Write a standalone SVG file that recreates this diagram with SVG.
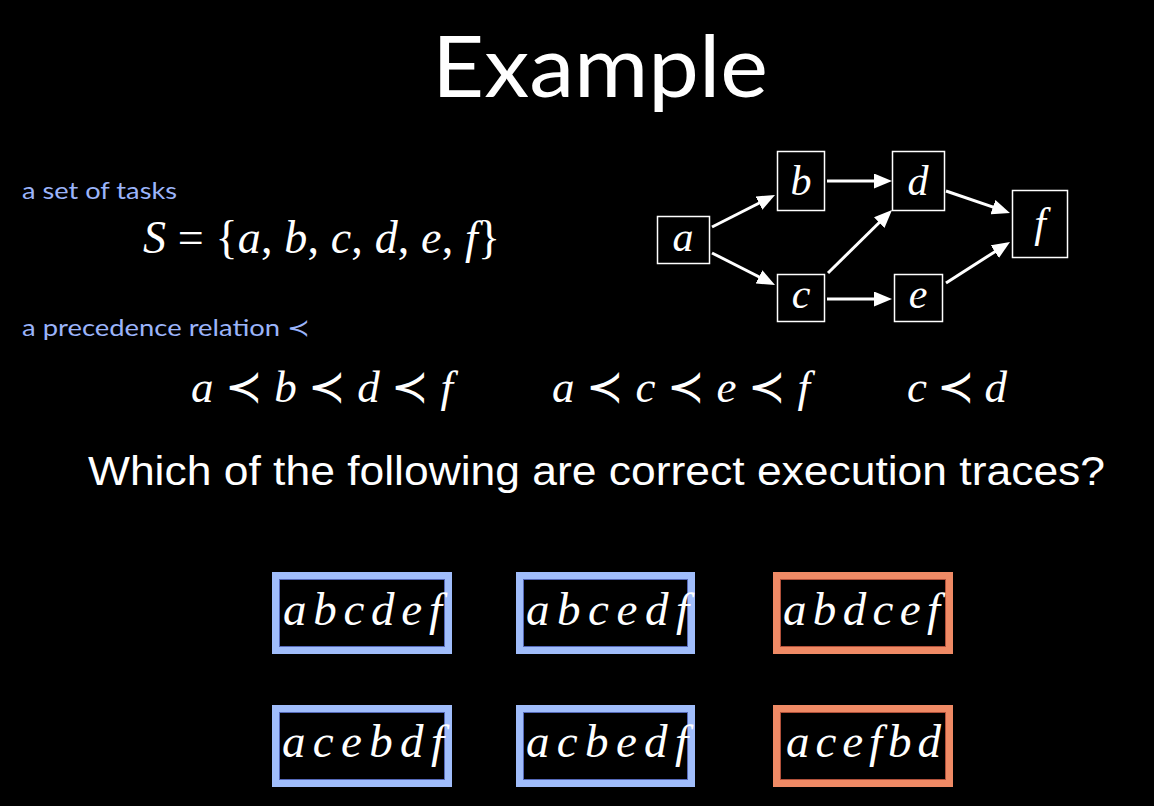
<svg xmlns="http://www.w3.org/2000/svg" width="1154" height="806" viewBox="0 0 1154 806">
  <defs>
    <style>
      .title { font-family: "Lato", "Open Sans", sans-serif; font-size: 86px; fill: #ffffff; }
      .label { font-family: "Lato", "Liberation Sans", sans-serif; font-size: 24px; fill: #9bb4fa; }
      .math { font-family: "Liberation Serif", "DejaVu Serif", serif; fill: #ffffff; }
      .it { font-style: italic; }
      .question { font-family: "Liberation Sans", Arial, sans-serif; font-size: 40px; fill: #ffffff; }
      .node rect { fill: #000000; stroke: #ffffff; stroke-width: 1.5; }
      .node text { font-family: "Liberation Serif", "DejaVu Serif", serif; font-style: italic; font-size: 42px; fill: #ffffff; text-anchor: middle; }
      .edge { stroke: #ffffff; stroke-width: 3; fill: none; marker-end: url(#head); }
      .ok { fill: none; stroke: #a0bdfb; stroke-width: 7; }
      .ok-edge { fill: none; stroke: #5468b8; stroke-width: 1; }
      .bad { fill: none; stroke: #ef8a65; stroke-width: 7; }
      .bad-edge { fill: none; stroke: #b0503a; stroke-width: 1; }
      .trace { font-family: "Liberation Serif", "DejaVu Serif", serif; font-style: italic; font-size: 47px; fill: #ffffff; }
    </style>
    <marker id="head" markerUnits="userSpaceOnUse" markerWidth="18" markerHeight="15" refX="8" refY="7.5" orient="auto">
      <path d="M0,0 L18,7.5 L0,15 z" fill="#ffffff"/>
    </marker>
  </defs>

  <rect x="0" y="0" width="1154" height="806" fill="#000000"/>

  <text class="title" x="432" y="97" textLength="336" lengthAdjust="spacingAndGlyphs">Example</text>

  <!-- task set -->
  <text class="label" x="22" y="199" textLength="155" lengthAdjust="spacingAndGlyphs">a set of tasks</text>
  <text class="math" x="143" y="253" font-size="46" textLength="357" lengthAdjust="spacing"><tspan class="it">S</tspan> = {<tspan class="it">a</tspan>, <tspan class="it">b</tspan>, <tspan class="it">c</tspan>, <tspan class="it">d</tspan>, <tspan class="it">e</tspan>, <tspan class="it">f</tspan>}</text>

  <!-- precedence relation -->
  <text class="label" x="22" y="336" textLength="288" lengthAdjust="spacingAndGlyphs">a precedence relation ≺</text>
  <g class="math" font-size="45">
    <text x="191" y="402" textLength="262" lengthAdjust="spacing"><tspan class="it">a</tspan> ≺ <tspan class="it">b</tspan> ≺ <tspan class="it">d</tspan> ≺ <tspan class="it">f</tspan></text>
    <text x="552" y="402" textLength="258" lengthAdjust="spacing"><tspan class="it">a</tspan> ≺ <tspan class="it">c</tspan> ≺ <tspan class="it">e</tspan> ≺ <tspan class="it">f</tspan></text>
    <text x="907" y="402" textLength="100" lengthAdjust="spacing"><tspan class="it">c</tspan> ≺ <tspan class="it">d</tspan></text>
  </g>

  <!-- precedence graph: connectors -->
  <g id="connectors">
    <line class="edge" x1="712" y1="227" x2="766.1" y2="199.5"/>
    <line class="edge" x1="712" y1="253" x2="766.1" y2="280.5"/>
    <line class="edge" x1="827" y1="181" x2="882" y2="181"/>
    <line class="edge" x1="827" y1="299" x2="882" y2="299"/>
    <line class="edge" x1="828" y1="273" x2="884.9" y2="217"/>
    <line class="edge" x1="946" y1="191" x2="1000.5" y2="209.7"/>
    <line class="edge" x1="946" y1="283" x2="1001.6" y2="247.4"/>
  </g>

  <!-- precedence graph: nodes -->
  <g id="node-a" class="node"><rect x="657.5" y="216.5" width="52" height="47"/><text x="683" y="251">a</text></g>
  <g id="node-b" class="node"><rect x="777.5" y="151.5" width="47" height="59"/><text x="801" y="195">b</text></g>
  <g id="node-c" class="node"><rect x="777.5" y="274.5" width="47" height="47"/><text x="801" y="308">c</text></g>
  <g id="node-d" class="node"><rect x="892.5" y="151.5" width="52" height="59"/><text x="918" y="195">d</text></g>
  <g id="node-e" class="node"><rect x="894.5" y="274.5" width="48" height="47"/><text x="918" y="308">e</text></g>
  <g id="node-f" class="node"><rect x="1012.5" y="190.5" width="55" height="67"/><text x="1040" y="237">f</text></g>

  <text class="question" x="88" y="485" textLength="1017" lengthAdjust="spacingAndGlyphs">Which of the following are correct execution traces?</text>

  <!-- candidate traces -->
  <g id="trace-abcdef">
    <rect class="ok" x="275.5" y="575.5" width="173" height="75"/>
    <rect class="ok-edge" x="279.5" y="579.5" width="165" height="67"/>
    <text class="trace" x="283" y="625" textLength="159" lengthAdjust="spacing">abcdef</text>
  </g>
  <g id="trace-abcedf">
    <rect class="ok" x="519.5" y="575.5" width="172" height="75"/>
    <rect class="ok-edge" x="523.5" y="579.5" width="164" height="67"/>
    <text class="trace" x="526" y="625" textLength="163" lengthAdjust="spacing">abcedf</text>
  </g>
  <g id="trace-abdcef">
    <rect class="bad" x="776.5" y="575.5" width="173" height="75"/>
    <rect class="bad-edge" x="780.5" y="579.5" width="165" height="67"/>
    <text class="trace" x="783" y="625" textLength="157" lengthAdjust="spacing">abdcef</text>
  </g>
  <g id="trace-acebdf">
    <rect class="ok" x="275.5" y="708.5" width="173" height="75"/>
    <rect class="ok-edge" x="279.5" y="712.5" width="165" height="67"/>
    <text class="trace" x="282" y="757" textLength="162" lengthAdjust="spacing">acebdf</text>
  </g>
  <g id="trace-acbedf">
    <rect class="ok" x="519.5" y="708.5" width="172" height="75"/>
    <rect class="ok-edge" x="523.5" y="712.5" width="164" height="67"/>
    <text class="trace" x="526" y="757" textLength="162" lengthAdjust="spacing">acbedf</text>
  </g>
  <g id="trace-acefbd">
    <rect class="bad" x="776.5" y="708.5" width="173" height="75"/>
    <rect class="bad-edge" x="780.5" y="712.5" width="165" height="67"/>
    <text class="trace" x="786" y="757" textLength="155" lengthAdjust="spacing">acefbd</text>
  </g>
</svg>
